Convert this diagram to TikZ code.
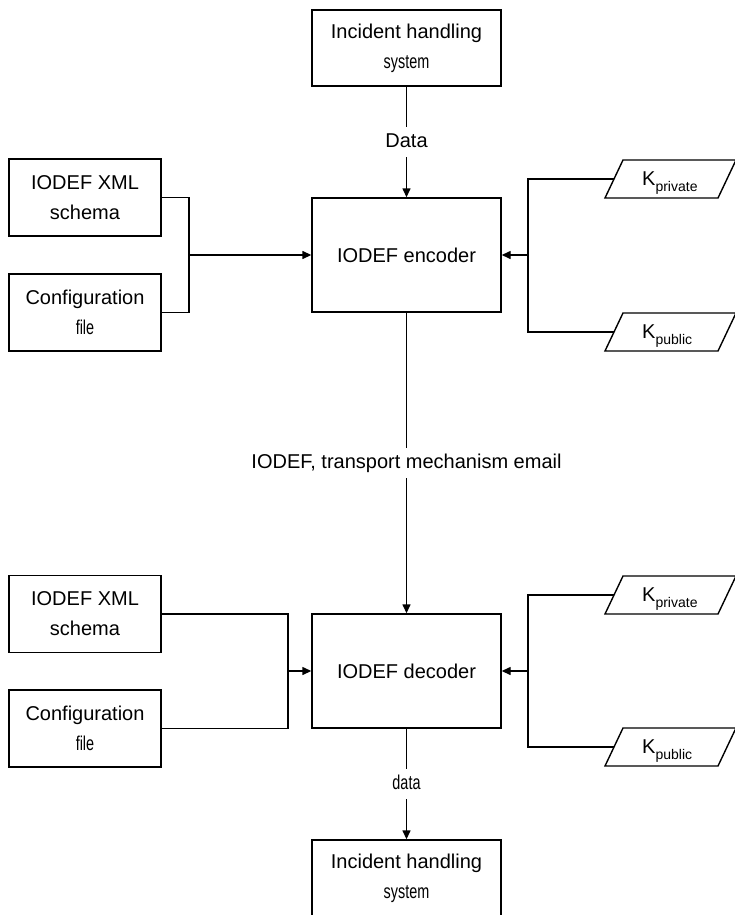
\documentclass[tikz,border=0pt]{standalone}
\usepackage{fontspec}
\usepackage{graphicx}
\setmainfont{Liberation Sans}
\usetikzlibrary{arrows.meta}
\newcommand\squish[1]{\scalebox{0.72}[1]{#1}}
\newcommand\ksub[1]{K\raisebox{-6pt}{\fontsize{14}{14}\selectfont #1}}
\begin{document}
\begin{tikzpicture}[x=1pt,y=1pt,
  box/.style={draw, line width=1.4pt, inner sep=0pt, align=center, font=\fontsize{20}{30}\selectfont},
  bigbox/.style={box, minimum width=189pt},
  smallbox/.style={box, minimum width=152pt, minimum height=77pt},
  conn/.style={line width=1.4pt},
  arr/.style={conn, -{Triangle[length=9pt,width=8pt]}},
  lab/.style={fill=white, inner xsep=1pt, inner ysep=6pt, text height=14pt, text depth=4pt, font=\fontsize{20}{24}\selectfont},
  para/.style={draw, line width=1.4pt},
  ktext/.style={anchor=base west, inner sep=0pt, font=\fontsize{20}{24}\selectfont},
  kshape/.pic={\draw[para] (-9,-19) -- (9,19) -- (122,19) -- (104,-19) -- cycle;}
]
\useasboundingbox (0,0) rectangle (735,-915);
\fill[white] (0,0) rectangle (735,-915);
\clip (0,0) rectangle (735,-915);

% main column
\node[bigbox, minimum height=76pt] (ih1) at (406.5,-48) {Incident handling\\\squish{system}};
\node[bigbox, minimum height=114pt] (enc) at (406.5,-255) {IODEF encoder};
\node[bigbox, minimum height=114pt] (dec) at (406.5,-671) {IODEF decoder};
\node[bigbox, minimum height=76pt] (ih2) at (406.5,-878) {Incident handling\\\squish{system}};

% left boxes
\node[smallbox] (s1) at (85,-197.5) {IODEF XML\\schema};
\node[smallbox] (c1) at (85,-312.5) {Configuration\\\squish{file}};
\node[smallbox] (s2) at (85,-614) {IODEF XML\\schema};
\node[smallbox] (c2) at (85,-728.5) {Configuration\\\squish{file}};

% key parallelograms
\pic at (614,-179) {kshape};
\coordinate (kpr1) at (614,-179);
\node[ktext] (kpr1t) at (642,-185) {\ksub{private}};
\pic at (614,-332) {kshape};
\coordinate (kpu1) at (614,-332);
\node[ktext] (kpu1t) at (642,-338) {\ksub{public}};
\pic at (614,-595) {kshape};
\coordinate (kpr2) at (614,-595);
\node[ktext] (kpr2t) at (642,-601) {\ksub{private}};
\pic at (614,-747) {kshape};
\coordinate (kpu2) at (614,-747);
\node[ktext] (kpu2t) at (642,-753) {\ksub{public}};

% vertical flow
\draw[arr] (ih1.south) -- node[lab] {Data} (enc.north);
\draw[arr] (enc.south) -- node[lab] {IODEF, transport mechanism email} (dec.north);
\draw[arr] (dec.south) -- node[lab] {\squish{data}} (ih2.north);

% left joins
\coordinate (j1) at (189,-255);
\draw[conn] (s1.east) -| (j1);
\draw[conn] (c1.east) -| (j1);
\draw[arr] (j1) -- (enc.west);
\coordinate (j2) at (288,-671);
\draw[conn] (s2.east) -| (j2);
\draw[conn] (c2.east) -| (j2);
\draw[arr] (j2) -- (dec.west);

% right joins
\coordinate (r1) at (528,-255);
\draw[conn] (kpr1) -| (r1);
\draw[conn] (kpu1) -| (r1);
\draw[arr] (r1) -- (enc.east);
\coordinate (r2) at (528,-671);
\draw[conn] (kpr2) -| (r2);
\draw[conn] (kpu2) -| (r2);
\draw[arr] (r2) -- (dec.east);
\end{tikzpicture}
\end{document}
